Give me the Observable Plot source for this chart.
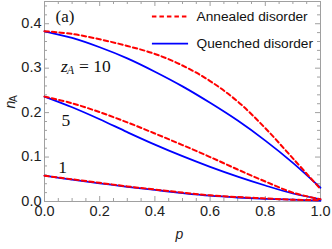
<!DOCTYPE html>
<html><head><meta charset="utf-8">
<script src="https://cdn.jsdelivr.net/npm/d3@7"></script>
<script src="https://cdn.jsdelivr.net/npm/@observablehq/plot@0.6"></script>
<style>body{margin:0;background:#fff} svg{display:block}</style>
</head><body><div id="chart"></div>
<script>
// ---- data ----
const p = [0, 0.1, 0.2, 0.3, 0.4, 0.5, 0.6, 0.7, 0.8, 0.9, 1.0];
const annealed10 = [0.383, 0.377, 0.365, 0.350, 0.332, 0.306, 0.271, 0.225, 0.165, 0.097, 0.028];
const quenched10 = [0.383, 0.368, 0.347, 0.322, 0.292, 0.259, 0.222, 0.182, 0.137, 0.087, 0.031];
const annealed5  = [0.236, 0.221, 0.201, 0.178, 0.153, 0.127, 0.100, 0.072, 0.045, 0.020, 0.005];
const quenched5  = [0.236, 0.212, 0.185, 0.156, 0.128, 0.102, 0.078, 0.056, 0.036, 0.018, 0.005];
const annealed1  = [0.058, 0.050, 0.042, 0.034, 0.027, 0.020, 0.014, 0.010, 0.007, 0.004, 0.003];
const quenched1  = [0.058, 0.049, 0.041, 0.033, 0.026, 0.019, 0.013, 0.009, 0.006, 0.004, 0.002];
const xMajor = [0, 0.2, 0.4, 0.6, 0.8, 1.0];
const xMinor = [0.05, 0.1, 0.15, 0.25, 0.3, 0.35, 0.45, 0.5, 0.55, 0.65, 0.7, 0.75, 0.85, 0.9, 0.95];
const yMajor = [0, 0.1, 0.2, 0.3, 0.4];
const yMinor = [0.02, 0.04, 0.06, 0.08, 0.12, 0.14, 0.16, 0.18, 0.22, 0.24, 0.26, 0.28, 0.32, 0.34, 0.36, 0.38, 0.42, 0.44];
const legendLabels = ["Annealed disorder", "Quenched disorder"];
const zLabels = ["10", "5", "1"];

// ---- layout / style ----
const W = 332, H = 249, mL = 44, mR = 12, mT = 1, mB = 48;
const PW = W - mL - mR, PH = H - mT - mB;
const RED = "#ff0000", BLUE = "#0000ff", GRAY = "#a0a0a0";
const SANS = "Liberation Sans, Arial, sans-serif";
const SERIF = "Liberation Serif, Times New Roman, serif";

function rows(vals, kind, z) { return vals.map((n, i) => ({p: p[i], n, kind, z})); }
const annealed = [...rows(annealed10, "a", 10), ...rows(annealed5, "a", 5), ...rows(annealed1, "a", 1)];
const quenched = [...rows(quenched10, "q", 10), ...rows(quenched5, "q", 5), ...rows(quenched1, "q", 1)];

// annotation placement (data units)
const legendPos = {x1: 0.391, x2: 0.522, xt: 0.551, y: [0.416, 0.355]};
const fmt = d3.format(".1f");

const chart = Plot.plot({
  width: W, height: H,
  marginLeft: mL, marginRight: mR, marginTop: mT, marginBottom: mB,
  x: {domain: [0, 1], axis: null},
  y: {domain: [0, 0.45], axis: null},
  style: {fontFamily: SANS, background: "#fff"},
  marks: [
    // ticks inside the frame, all four sides
    Plot.tickX(xMajor, {x: d => d, insetTop: PH - 5, stroke: GRAY}),
    Plot.tickX(xMinor, {x: d => d, insetTop: PH - 3, stroke: GRAY}),
    Plot.tickX(xMajor, {x: d => d, insetBottom: PH - 5, stroke: GRAY}),
    Plot.tickX(xMinor, {x: d => d, insetBottom: PH - 3, stroke: GRAY}),
    Plot.tickY(yMajor, {y: d => d, insetRight: PW - 5, stroke: GRAY}),
    Plot.tickY(yMinor, {y: d => d, insetRight: PW - 3, stroke: GRAY}),
    Plot.tickY(yMajor, {y: d => d, insetLeft: PW - 5, stroke: GRAY}),
    Plot.tickY(yMinor, {y: d => d, insetLeft: PW - 3, stroke: GRAY}),
    Plot.frame({stroke: GRAY}),
    // tick labels
    Plot.text(xMajor, {x: d => d, frameAnchor: "bottom", dy: 14, text: d => fmt(d), fontSize: 14.5, fill: "#222"}),
    Plot.text(yMajor, {y: d => d, frameAnchor: "left", dx: -3, dy: -0.5, textAnchor: "end", text: d => fmt(d), fontSize: 14.5, fill: "#222"}),
    // axis labels
    Plot.text(["p"], {text: d => d, frameAnchor: "bottom", dx: -3, dy: 37, fontStyle: "italic", fontSize: 14, fill: "#222"}),
    Plot.text(["n"], {text: d => d, frameAnchor: "left", dx: -33.5, dy: 7, rotate: -90, fontStyle: "italic", fontSize: 14, fill: "#222"}),
    Plot.text(["A"], {text: d => d, frameAnchor: "left", dx: -30.5, dy: 0.5, rotate: -90, fontSize: 10, fill: "#222"}),
    // curves
    Plot.line(quenched, {x: "p", y: "n", z: "z", stroke: BLUE, strokeWidth: 1.8, curve: "catmull-rom"}),
    Plot.line(annealed, {x: "p", y: "n", z: "z", stroke: RED, strokeWidth: 2, strokeDasharray: "4.5,3", curve: "catmull-rom"}),
    // legend
    Plot.ruleY([legendPos.y[0]], {x1: legendPos.x1, x2: legendPos.x2, stroke: RED, strokeWidth: 2, strokeDasharray: "4.5,3"}),
    Plot.ruleY([legendPos.y[1]], {x1: legendPos.x1, x2: legendPos.x2, stroke: BLUE, strokeWidth: 1.8}),
    Plot.text(legendLabels, {x: legendPos.xt, y: (d, i) => legendPos.y[i], text: d => d, textAnchor: "start", fontSize: 13.7, fill: "#111"}),
    // panel label and z_A labels
    Plot.text(["(a)"], {x: 0.040, y: 0.404, text: d => d, textAnchor: "start", lineAnchor: "bottom", fontFamily: SERIF, fontSize: 17, fill: "#111"}),
    Plot.text(["z"], {x: 0.0598, y: 0.2925, text: d => d, textAnchor: "start", lineAnchor: "bottom", fontFamily: SERIF, fontStyle: "italic", fontSize: 17.5, fill: "#111"}),
    Plot.text(["A"], {x: 0.0815, y: 0.2858, text: d => d, textAnchor: "start", lineAnchor: "bottom", fontFamily: SERIF, fontStyle: "italic", fontSize: 11.5, fill: "#111"}),
    Plot.text(["= " + zLabels[0]], {x: 0.125, y: 0.2925, text: d => d, textAnchor: "start", lineAnchor: "bottom", fontFamily: SERIF, fontSize: 17.5, fill: "#111"}),
    Plot.text([zLabels[1]], {x: 0.0616, y: 0.171, text: d => d, textAnchor: "start", lineAnchor: "bottom", fontFamily: SERIF, fontSize: 17.5, fill: "#111"}),
    Plot.text([zLabels[2]], {x: 0.050, y: 0.0637, text: d => d, textAnchor: "start", lineAnchor: "bottom", fontFamily: SERIF, fontSize: 17.5, fill: "#111"})
  ]
});
document.getElementById("chart").append(chart);
</script>
</body></html>
